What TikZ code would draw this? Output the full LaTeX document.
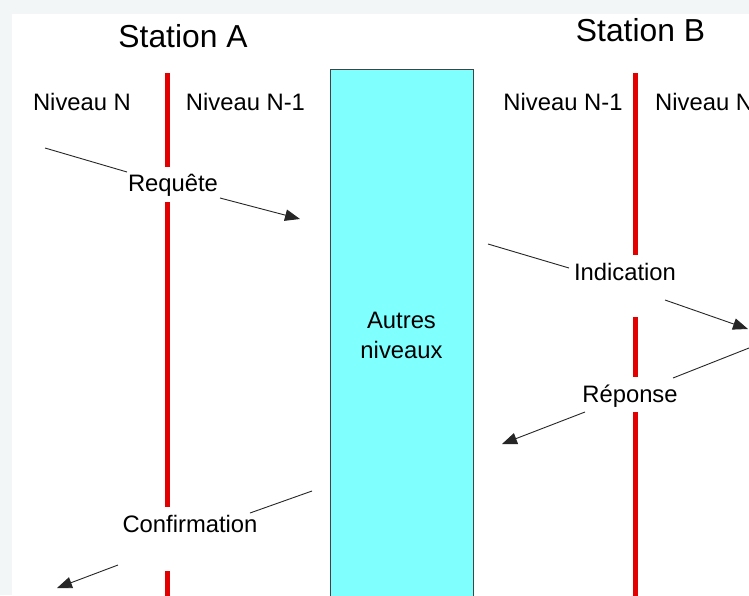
\documentclass[tikz,border=0pt]{standalone}
\usepackage{fontspec}
\setmainfont{Liberation Sans}
\usetikzlibrary{arrows.meta}
\definecolor{bgray}{RGB}{243,246,246}
\definecolor{lred}{RGB}{226,0,0}
\definecolor{cyanbox}{RGB}{128,255,255}
\definecolor{boxedge}{RGB}{60,70,70}
\begin{document}
\begin{tikzpicture}[x=1pt,y=-1pt,
  station/.style={font=\fontsize{31.8}{36}\selectfont, anchor=base, inner sep=0pt},
  lvl/.style={font=\fontsize{23.8}{29}\selectfont, anchor=base, inner sep=0pt},
  msg/.style={draw=black!85, line width=0.9pt},
  msgarrow/.style={msg, -{Triangle[length=15pt,width=11.5pt]}},
  layer/.style={draw=lred, line width=5pt}]
\useasboundingbox (0,0) rectangle (749,595);
\fill[bgray] (0,0) rectangle (749,595);
\fill[white] (12,14) rectangle (749,595);
% other layers box
\node (box) [rectangle, draw=boxedge, fill=cyanbox, line width=1pt, anchor=north west,
  minimum width=143pt, minimum height=560pt, inner sep=0pt] at (330,69) {};
\node (autres) [lvl, align=center, font=\fontsize{23.8}{29.5}\selectfont] at (401.5,358) {Autres\\niveaux};
% titles
\node (stA) [station] at (183,47) {Station A};
\node (stB) [station] at (640.5,41) {Station B};
\node (nA1) [lvl] at (82,110) {Niveau N};
\node (nA2) [lvl] at (245.5,110) {Niveau N-1};
\node (nB1) [lvl] at (563,110) {Niveau N-1};
\node (nB2) [lvl, anchor=base west] at (655,110) {Niveau N};
% red separators
\draw[layer] (167,73) -- (167,167);
\draw[layer] (167,202) -- (167,507);
\draw[layer] (167,571) -- (167,600);
\draw[layer] (635,73) -- (635,255);
\draw[layer] (635,317) -- (635,377);
\draw[layer] (635,412) -- (635,600);
% labels
\node (req) [lvl] at (173,191.5) {Requête};
\node (ind) [lvl] at (625,280) {Indication};
\node (rep) [lvl] at (630,402) {Réponse};
\node (conf) [lvl] at (190,532) {Confirmation};
% connector points
\coordinate (r1) at (45,148); \coordinate (r2) at (127,172);
\coordinate (r3) at (220,198); \coordinate (r4) at (300,219);
\coordinate (i1) at (488,244); \coordinate (i2) at (569,268);
\coordinate (i3) at (665,300); \coordinate (i4) at (748,329);
\coordinate (p1) at (749,348); \coordinate (p2) at (673,378);
\coordinate (p3) at (585,412); \coordinate (p4) at (502,444);
\coordinate (c1) at (312,491); \coordinate (c2) at (250,513);
\coordinate (c3) at (118,565); \coordinate (c4) at (57,588);
\draw[msg] (r1) -- (r2); \draw[msgarrow] (r3) -- (r4);
\draw[msg] (i1) -- (i2); \draw[msgarrow] (i3) -- (i4);
\draw[msg] (p1) -- (p2); \draw[msgarrow] (p3) -- (p4);
\draw[msg] (c1) -- (c2); \draw[msgarrow] (c3) -- (c4);
\end{tikzpicture}
\end{document}
